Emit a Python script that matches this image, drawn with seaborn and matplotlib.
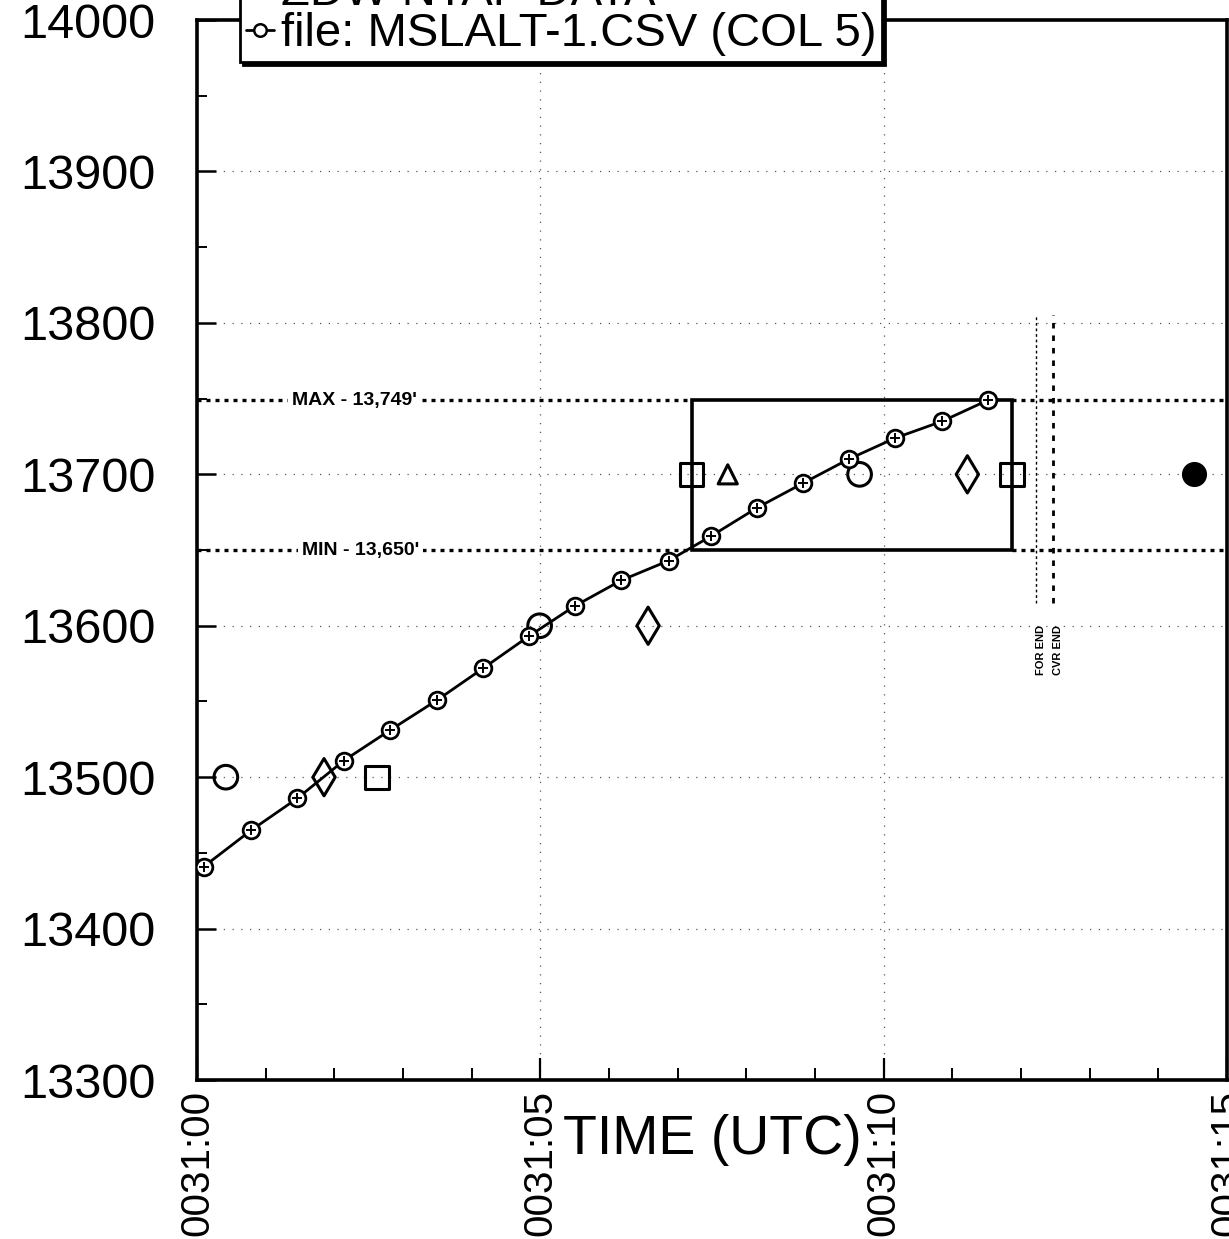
import numpy as np
import pandas as pd
import matplotlib
matplotlib.use("Agg")
import matplotlib.pyplot as plt
import seaborn as sns
from matplotlib.lines import Line2D
from matplotlib.patches import Rectangle
from matplotlib.ticker import MultipleLocator, FixedLocator

# minutes after 0031:00 and MSL altitude (ft), file MSLALT-1.CSV col 5
csv_minutes = [0.10, 0.79, 1.46, 2.14, 2.81, 3.50, 4.17, 4.83, 5.50,
               6.18, 6.87, 7.48, 8.16, 8.82, 9.49, 10.17, 10.85, 11.52]
csv_alt = [13441, 13465, 13486, 13511, 13531, 13551, 13572, 13593, 13613,
           13630, 13643, 13659, 13678, 13694, 13710, 13724, 13735, 13749]

# other reports (open symbols)
circle_minutes = [0.42, 4.99, 9.65]
circle_alt = [13500, 13600, 13700]
diamond_minutes = [1.85, 6.57, 11.22]
diamond_alt = [13500, 13600, 13700]
square_minutes = [2.62, 7.20, 11.87]
square_alt = [13500, 13700, 13700]
ntap_minutes = [7.73]
ntap_alt = [13700]
filled_minutes = [14.52]
filled_alt = [13700]

alt_max = 13749
alt_min = 13650
box_start = 7.21
box_end = 11.87
for_end = 12.22
cvr_end = 12.46
end_lines_alt = [13615, 13805]

x_ticks = [0, 5, 10, 15]
x_tick_labels = ["0031:00", "0031:05", "0031:10", "0031:15"]
y_ticks = [13300, 13400, 13500, 13600, 13700, 13800, 13900, 14000]


def main():
    sns.set_style("ticks")
    plt.rcParams["font.family"] = ["Liberation Sans", "DejaVu Sans"]
    plt.rcParams["text.color"] = "black"
    plt.rcParams["axes.labelcolor"] = "black"
    plt.rcParams["xtick.color"] = "black"
    plt.rcParams["ytick.color"] = "black"

    fig = plt.figure(figsize=(12.29, 12.39), dpi=100)
    ax = fig.add_axes([0.1603, 0.1283, 0.838, 0.8555])

    # faint dotted grid
    for y in y_ticks[1:-1]:
        ax.axhline(y, color="0.35", lw=0.9, ls=(0, (1, 6)), zorder=0)
    for x in x_ticks[1:-1]:
        ax.axvline(x, color="0.35", lw=0.9, ls=(0, (1, 6)), zorder=0)

    # min / max altitude lines, broken by the box
    for y in (alt_max, alt_min):
        ax.plot([0, box_start], [y, y], color="black", lw=2.4, ls=(0, (1.2, 1.5)), zorder=1)
        ax.plot([box_end, 15], [y, y], color="black", lw=2.4, ls=(0, (1.2, 1.5)), zorder=1)
    label_box = dict(facecolor="white", edgecolor="none", pad=3)
    ax.text(2.30, alt_max, "MAX - 13,749'", fontsize=14, fontweight="bold",
            ha="center", va="center", bbox=label_box, zorder=2)
    ax.text(2.38, alt_min, "MIN - 13,650'", fontsize=14, fontweight="bold",
            ha="center", va="center", bbox=label_box, zorder=2)

    ax.add_patch(Rectangle((box_start, alt_min), box_end - box_start, alt_max - alt_min,
                           fill=False, edgecolor="black", lw=2.6, zorder=3))

    # FOR END / CVR END markers
    ax.plot([for_end, for_end], end_lines_alt, color="black", lw=1.0, ls=(0, (2, 2)), zorder=1)
    ax.plot([cvr_end, cvr_end], end_lines_alt, color="black", lw=2.0, ls=(0, (2, 2.5)), zorder=1)
    ax.text(for_end + 0.07, 13584, "FOR END", rotation=90, fontsize=8, fontweight="bold",
            ha="center", va="center")
    ax.text(cvr_end + 0.08, 13584, "CVR END", rotation=90, fontsize=8, fontweight="bold",
            ha="center", va="center")

    # main series
    df = pd.DataFrame({"minute": csv_minutes, "alt": csv_alt})
    sns.lineplot(data=df, x="minute", y="alt", ax=ax, color="black", lw=2.0,
                 marker="o", markersize=12, markerfacecolor="white",
                 markeredgecolor="black", markeredgewidth=2.0, zorder=5)
    sns.scatterplot(data=df, x="minute", y="alt", ax=ax, marker="+", s=45,
                    color="black", linewidth=1.4, zorder=6)

    open_kw = dict(facecolors="none", edgecolors="black", linewidth=2.2, zorder=4)
    sns.scatterplot(x=circle_minutes, y=circle_alt, ax=ax, marker="o", s=290, **open_kw)
    sns.scatterplot(x=diamond_minutes, y=diamond_alt, ax=ax, marker="d", s=360, **open_kw)
    sns.scatterplot(x=square_minutes, y=square_alt, ax=ax, marker="s", s=280, **open_kw)
    sns.scatterplot(x=ntap_minutes, y=ntap_alt, ax=ax, marker="^", s=190, **open_kw)
    sns.scatterplot(x=filled_minutes, y=filled_alt, ax=ax, marker="o", s=280,
                    color="black", edgecolor="black", zorder=4)

    ax.set_xlim(0, 15)
    ax.set_ylim(13300, 14000)
    ax.xaxis.set_major_locator(FixedLocator(x_ticks))
    ax.set_xticklabels(x_tick_labels, rotation=90, fontsize=29)
    ax.xaxis.set_minor_locator(MultipleLocator(1))
    ax.set_yticks(y_ticks)
    ax.set_yticklabels([str(v) for v in y_ticks], fontsize=35)
    ax.yaxis.set_minor_locator(MultipleLocator(50))

    ax.tick_params(axis="x", which="major", direction="in", length=16, width=1.6, pad=7)
    ax.tick_params(axis="x", which="minor", direction="in", length=9, width=1.4)
    ax.tick_params(axis="y", which="major", direction="in", length=14, width=1.8, pad=30)
    ax.tick_params(axis="y", which="minor", direction="in", length=7, width=1.4)
    for side in ("left", "right", "top", "bottom"):
        ax.spines[side].set_visible(True)
        ax.spines[side].set_linewidth(2.6)
        ax.spines[side].set_color("black")

    ax.set_ylabel("")
    ax.set_xlabel("TIME (UTC)", fontsize=40,
                  family=["Liberation Sans Narrow", "Liberation Sans", "DejaVu Sans"])
    ax.xaxis.label.set_va("center")
    ax.xaxis.set_label_coords(0.5, -0.057)

    handles = [
        Line2D([], [], ls="none", marker="^", markersize=13, markerfacecolor="none",
               markeredgecolor="black", markeredgewidth=1.8),
        Line2D([], [], color="black", lw=2.0, marker="o", markersize=9,
               markerfacecolor="white", markeredgecolor="black", markeredgewidth=1.8),
    ]
    leg = fig.legend(handles, ["ZDW NTAP DATA", "file: MSLALT-1.CSV (COL 5)"],
                     loc="lower left", bbox_to_anchor=(0.1953, 0.950),
                     bbox_transform=fig.transFigure, fontsize=34, frameon=True,
                     fancybox=False, shadow={"color": "black", "alpha": 1},
                     handlelength=0.6, handletextpad=0.15, borderpad=0.12,
                     labelspacing=-0.05, borderaxespad=0)
    leg.get_frame().set_edgecolor("black")
    leg.get_frame().set_linewidth(2.0)
    leg.set_zorder(10)

    fig.savefig("out.png", dpi=100)
    plt.close(fig)


if __name__ == "__main__":
    main()
